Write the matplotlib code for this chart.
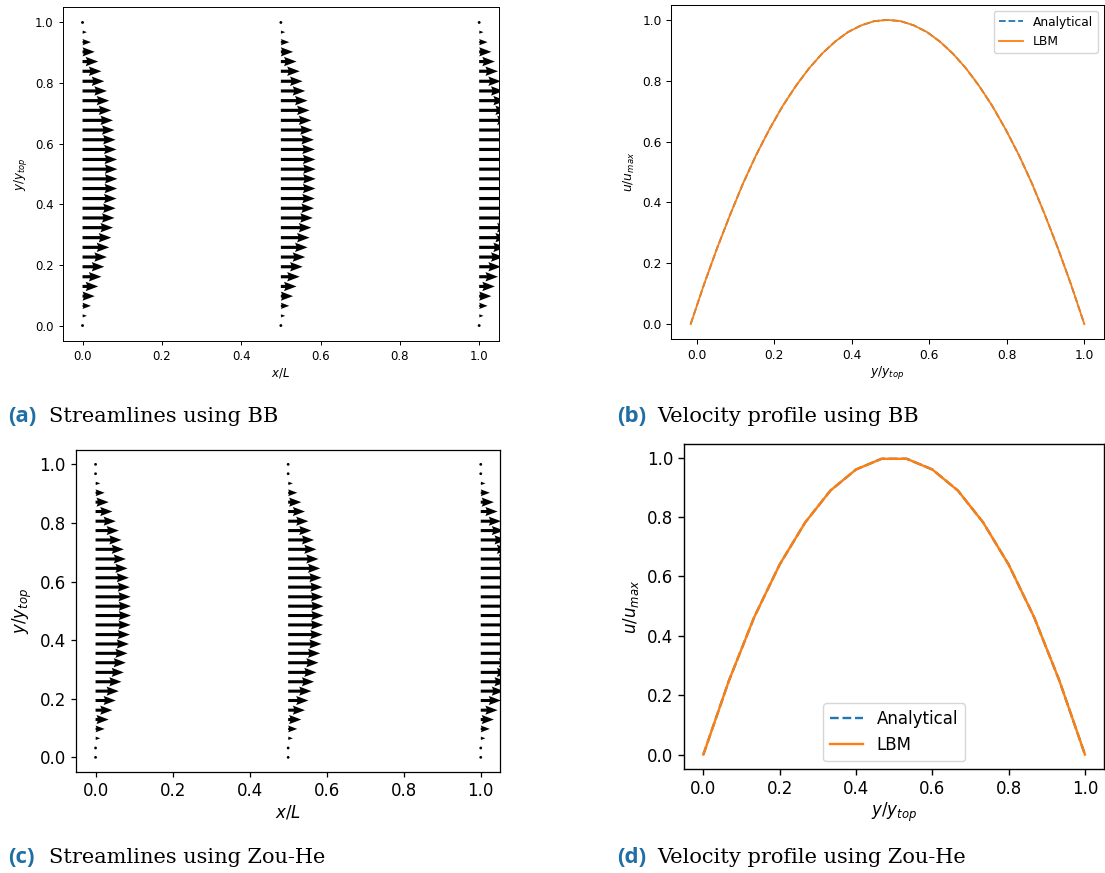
"""
Poiseuille flow: quiver streamlines and velocity profiles, BB vs Zou-He.
"""

import numpy as np
import matplotlib
matplotlib.use('Agg')
import matplotlib.pyplot as plt

# ---------------------------------------------------------------------------
# Data
# ---------------------------------------------------------------------------
X_COLUMNS = [0.0, 0.5, 1.0]
Y_ROWS = [0.0, 0.032, 0.065, 0.097, 0.129, 0.161, 0.194, 0.226, 0.258, 0.290,
          0.323, 0.355, 0.387, 0.419, 0.452, 0.484, 0.516, 0.548, 0.581, 0.613,
          0.645, 0.677, 0.710, 0.742, 0.774, 0.806, 0.839, 0.871, 0.903, 0.935,
          0.968, 1.0]

# normalised x-velocity per row (same for every column)
U_BB = [0.0, 0.125, 0.241, 0.350, 0.450, 0.541, 0.624, 0.699, 0.766, 0.824,
        0.874, 0.916, 0.949, 0.974, 0.991, 0.999, 0.999, 0.991, 0.974, 0.949,
        0.916, 0.874, 0.824, 0.766, 0.699, 0.624, 0.541, 0.450, 0.350, 0.241,
        0.125, 0.0]
U_ZH = [0.0, 0.0, 0.133, 0.257, 0.371, 0.476, 0.571, 0.656, 0.732, 0.799,
        0.856, 0.904, 0.942, 0.970, 0.989, 0.999, 0.999, 0.989, 0.970, 0.942,
        0.904, 0.856, 0.799, 0.732, 0.656, 0.571, 0.476, 0.371, 0.257, 0.133,
        0.0, 0.0]

# velocity profile, bounce-back
PROF_BB_Y = [-0.016, 0.018, 0.052, 0.086, 0.119, 0.153, 0.187, 0.221, 0.255,
             0.289, 0.323, 0.357, 0.390, 0.424, 0.458, 0.492, 0.526, 0.560,
             0.594, 0.627, 0.661, 0.695, 0.729, 0.763, 0.797, 0.831, 0.865,
             0.898, 0.932, 0.966, 1.0]
PROF_BB_U = [0.0, 0.129, 0.249, 0.360, 0.462, 0.556, 0.640, 0.716, 0.782,
             0.840, 0.889, 0.929, 0.960, 0.982, 0.996, 1.0, 0.996, 0.982,
             0.960, 0.929, 0.889, 0.840, 0.782, 0.716, 0.640, 0.556, 0.462,
             0.360, 0.249, 0.129, 0.0]

# velocity profile, Zou-He
PROF_ZH_Y = [0.0, 0.067, 0.133, 0.2, 0.267, 0.333, 0.4, 0.467, 0.533, 0.6,
             0.667, 0.733, 0.8, 0.867, 0.933, 1.0]
PROF_ZH_U = [0.0, 0.249, 0.462, 0.64, 0.782, 0.889, 0.96, 0.996, 0.996, 0.96,
             0.889, 0.782, 0.64, 0.462, 0.249, 0.0]

CAPTIONS = [
    ("(a)", "Streamlines using BB"),
    ("(b)", "Velocity profile using BB"),
    ("(c)", "Streamlines using Zou-He"),
    ("(d)", "Velocity profile using Zou-He"),
]

W, H = 1105, 873
LABEL_BLUE = "#1f6fa5"


def px_axes(fig, left, top, right, bottom):
    return fig.add_axes([left / W, 1 - bottom / H, (right - left) / W, (bottom - top) / H])


def style_axes(ax, fs, lw):
    ax.tick_params(labelsize=fs, width=lw, length=3.5 * lw / 0.8)
    for sp in ax.spines.values():
        sp.set_linewidth(lw)


def draw_quiver(ax, u_rows, tip, fs, lw):
    X, Y = np.meshgrid(X_COLUMNS, Y_ROWS)
    U = np.tile(np.array(u_rows)[:, None], (1, len(X_COLUMNS)))
    V = np.zeros_like(U)
    ax.quiver(X, Y, U, V, angles="xy", scale_units="xy", scale=1.0 / tip,
              width=0.0072, headwidth=3.0, headlength=4.0, headaxislength=3.6,
              color="black")
    ax.set_xlim(-0.05, 1.05)
    ax.set_ylim(-0.05, 1.05)
    ax.set_xlabel(r"$x/L$", fontsize=fs, labelpad=2)
    ax.set_ylabel(r"$y/y_{top}$", fontsize=fs)
    style_axes(ax, fs, lw)


def draw_profile(ax, ys, us, fs, lw, line_w, loc):
    ax.plot(ys, us, "--", color="C0", lw=line_w, label="Analytical")
    ax.plot(ys, us, "-", color="C1", lw=line_w, label="LBM")
    ax.set_xlabel(r"$y/y_{top}$", fontsize=fs, labelpad=2)
    ax.set_ylabel(r"$u/u_{max}$", fontsize=fs)
    ax.legend(loc=loc, fontsize=fs)
    style_axes(ax, fs, lw)


fig = plt.figure(figsize=(W / 100, H / 100), dpi=100)

ax_a = px_axes(fig, 62.7, 7.3, 499, 340.7)
draw_quiver(ax_a, U_BB, 0.088, 8.5, 0.7)

ax_b = px_axes(fig, 671, 4.7, 1104, 339.3)
draw_profile(ax_b, PROF_BB_Y, PROF_BB_U, 8.8, 0.75, 1.3, "upper right")

ax_c = px_axes(fig, 76.3, 449.7, 500, 772)
draw_quiver(ax_c, U_ZH, 0.092, 12.0, 0.9)

ax_d = px_axes(fig, 684.3, 444, 1104, 769.3)
draw_profile(ax_d, PROF_ZH_Y, PROF_ZH_U, 12.0, 1.0, 1.7, "lower center")

# sub-figure captions
cap_pos = [(8, 49, 422), (617, 657, 422), (8, 49, 863), (617, 657, 863)]
for (tag, text), (xt, xs, yb) in zip(CAPTIONS, cap_pos):
    fig.text(xt / W, 1 - yb / H, tag, fontsize=16, fontweight="bold",
             family="Open Sans", color=LABEL_BLUE, va="baseline")
    fig.text(xs / W, 1 - yb / H, text, fontsize=15, family="DejaVu Serif",
             va="baseline")

fig.savefig("out.png", dpi=100)
